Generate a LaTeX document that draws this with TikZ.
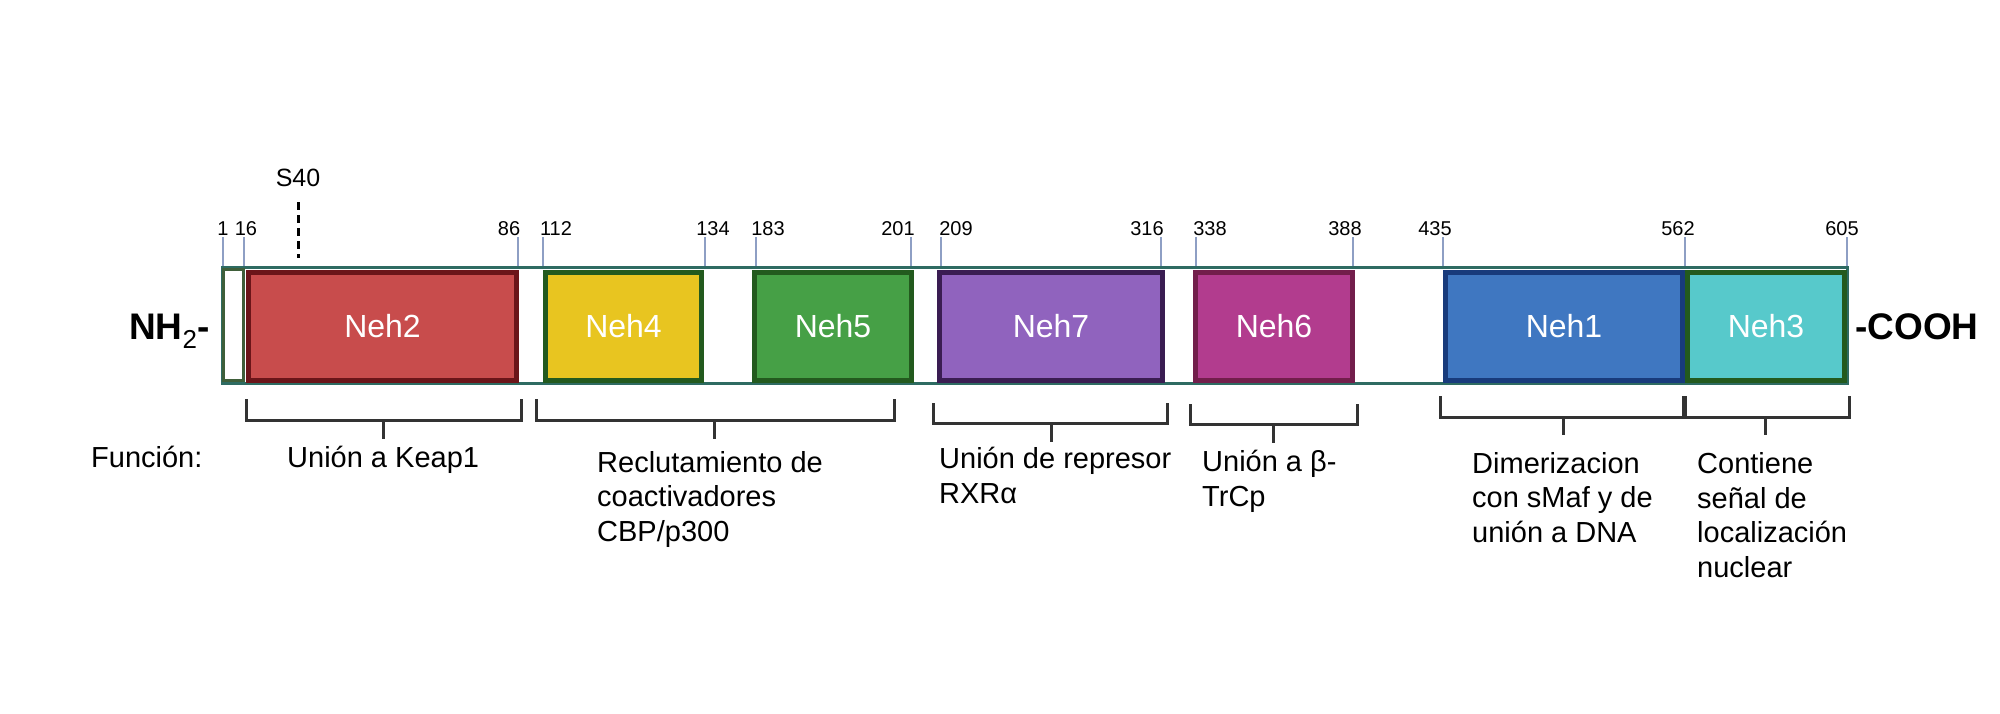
\documentclass[tikz,border=0pt]{standalone}
\usepackage{fontspec}
\setmainfont{Liberation Sans}
\usepackage{tikz}
\usetikzlibrary{positioning}

\definecolor{chainline}{HTML}{2E6B62}
\definecolor{startline}{HTML}{3F5F3A}
\definecolor{tickblue}{HTML}{8E9FC4}
\definecolor{brkgray}{HTML}{333333}
\definecolor{nehtwo}{HTML}{C84C4C}
\definecolor{nehtwoline}{HTML}{6B1519}
\definecolor{nehfour}{HTML}{E8C520}
\definecolor{nehfive}{HTML}{46A046}
\definecolor{greenline}{HTML}{235A1E}
\definecolor{nehseven}{HTML}{9063BE}
\definecolor{nehsevenline}{HTML}{3A1D52}
\definecolor{nehsix}{HTML}{B23C8E}
\definecolor{nehsixline}{HTML}{721E4B}
\definecolor{nehone}{HTML}{3F77C1}
\definecolor{nehoneline}{HTML}{183B7C}
\definecolor{nehthree}{HTML}{57C9CB}

\begin{document}
\begin{tikzpicture}[x=1pt, y=-1pt,
  nehbox/.style = {draw, line width=5pt, minimum height=108pt, inner sep=0pt, text=white, font=\fontsize{32}{38}\selectfont},
  tickline/.style = {draw=tickblue, line width=1.5pt},
  resnum/.style = {font=\fontsize{20}{24}\selectfont, anchor=base, inner sep=0pt},
  func/.style = {font=\fontsize{29}{34.5}\selectfont, anchor=base west, align=left, inner sep=0pt},
  brk/.style = {draw=brkgray, line width=3pt},
  endlabel/.style = {font=\bfseries\fontsize{37}{44}\selectfont, inner sep=0pt}]
\useasboundingbox (0,0) rectangle (2000,713);

% backbone and domains
\draw[draw=chainline, line width=3pt] (222,267) rectangle (1847,383);
\node[draw=startline, line width=3pt, fill=white, minimum width=20pt, minimum height=111pt, inner sep=0pt] (start) at (233.5,325) {};
\node[nehbox, fill=nehtwo, draw=nehtwoline, minimum width=268pt] (neh2) at (382.5,326) {Neh2};
\node[nehbox, fill=nehfour, draw=greenline, minimum width=156pt] (neh4) at (623.5,326) {Neh4};
\node[nehbox, fill=nehfive, draw=greenline, minimum width=157pt] (neh5) at (833,326) {Neh5};
\node[nehbox, fill=nehseven, draw=nehsevenline, minimum width=223pt] (neh7) at (1051,326) {Neh7};
\node[nehbox, fill=nehsix, draw=nehsixline, minimum width=157pt] (neh6) at (1274,326) {Neh6};
\node[nehbox, fill=nehone, draw=nehoneline, minimum width=237pt] (neh1) at (1564,326) {Neh1};
\node[nehbox, fill=nehthree, draw=greenline, minimum width=157pt] (neh3) at (1766,326) {Neh3};

\node[endlabel, anchor=base east] (nh2) at (210,339) {NH\textsubscript{\mdseries 2}-};
\node[endlabel, anchor=base west] (cooh) at (1855,339) {-COOH};

% residue numbers
\foreach \tx/\lx/\n in {223/223/1, 244/246/16, 518/509/86, 543/556/112, 705/713/134,
  756/768/183, 911/898/201, 941/956/209, 1161/1147/316, 1196/1210/338,
  1353/1345/388, 1443/1435/435, 1685/1678/562, 1847/1842/605}{
  \coordinate (tk\n) at (\tx,266);
  \draw[tickline] (tk\n) -- ++(0,-29);
  \node[resnum] (res\n) at (\lx,235) {\n};
}

\node[font=\fontsize{25}{30}\selectfont, anchor=base, inner sep=0pt] (s40) at (298,186) {S40};
\coordinate (s40top) at (298,202);
\coordinate (s40bot) at (298,258);
\draw[line width=3pt, dash pattern=on 8pt off 5pt] (s40top) -- (s40bot);

% brackets
\foreach \xa/\xb/\yt/\yb/\xs in {246/521/399/420/383, 536/894/399/420/714,
  933/1167/403/423/1051, 1190/1357/404/424/1273}{
  \draw[brk] (\xa,\yt) -- (\xa,\yb) -- (\xb,\yb) -- (\xb,\yt);
  \draw[brk] (\xs,\yb) -- (\xs,\yb+19);
}
\draw[brk] (1440,396) -- (1440,417) -- (1849,417) -- (1849,396);
\draw[brk, line width=5pt] (1684,396) -- (1684,417);
\draw[brk] (1563,417) -- (1563,435);
\draw[brk] (1765,417) -- (1765,435);

% functions (base = last line)
\node[func] (funcion) at (91,467) {Función:};
\node[func] (keap) at (287,467) {Unión a Keap1};
\node[func] (cbp) at (597,541) {Reclutamiento de\\coactivadores\\CBP/p300};
\node[func] (rxr) at (939,503) {Unión de represor\\RXRα};
\node[func] (trcp) at (1202,506) {Unión a β-\\TrCp};
\node[func] (smaf) at (1472,542) {Dimerizacion\\con sMaf y de\\unión a DNA};
\node[func] (nls) at (1697,577) {Contiene\\señal de\\localización\\nuclear};
\end{tikzpicture}
\end{document}
